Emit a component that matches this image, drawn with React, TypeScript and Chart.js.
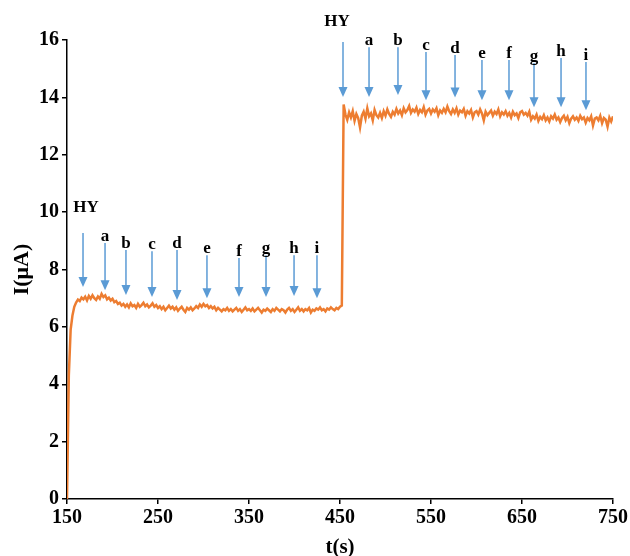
import React, { useEffect, useRef } from 'react';
import { Chart, registerables } from 'chart.js';
Chart.register(...registerables);

// sampling grid of the amperometric trace (s)
const T_START = 150;
const T_STEP = 2;

// current (µA) from t = 150 s to 452 s
const currentLow = [
  0, 4.3, 5.9, 6.4, 6.7, 6.85, 6.95, 6.9, 7.02, 6.96,
  7.05, 6.92, 7.08, 6.98, 7.1, 7.0, 6.94, 7.06, 6.98, 7.15,
  7.04, 7.1, 6.96, 7.02, 6.92, 6.98, 6.86, 6.9, 6.8, 6.84,
  6.74, 6.8, 6.7, 6.78, 6.68, 6.82, 6.72, 6.76, 6.66, 6.8,
  6.7, 6.76, 6.84, 6.72, 6.78, 6.68, 6.74, 6.82, 6.7, 6.76,
  6.66, 6.72, 6.62, 6.7, 6.58, 6.66, 6.74, 6.64, 6.7, 6.6,
  6.68, 6.56, 6.64, 6.7, 6.6, 6.52, 6.66, 6.6, 6.68, 6.58,
  6.64, 6.72, 6.66, 6.78, 6.7, 6.8, 6.72, 6.76, 6.66, 6.72,
  6.64, 6.7, 6.58, 6.66, 6.6, 6.54, 6.62, 6.58, 6.66, 6.56,
  6.62, 6.54, 6.6, 6.66, 6.56, 6.62, 6.52, 6.6, 6.68, 6.58,
  6.62, 6.56, 6.64, 6.54, 6.6, 6.66, 6.58, 6.5, 6.6, 6.56,
  6.64, 6.58, 6.52, 6.62, 6.56, 6.66, 6.6, 6.54, 6.62, 6.58,
  6.5, 6.6, 6.66, 6.56, 6.62, 6.52, 6.6, 6.68, 6.56, 6.62,
  6.54, 6.62, 6.58, 6.66, 6.5, 6.6, 6.56, 6.64, 6.6, 6.68,
  6.58, 6.62, 6.54, 6.64, 6.6, 6.68, 6.62, 6.58, 6.66, 6.62,
  6.7, 6.74,
];

// current (µA) from t = 454 s to 750 s
const currentHigh = [
  13.75, 13.4, 13.22, 13.48, 13.3, 13.52, 13.18, 13.42, 13.28, 12.95,
  13.36, 13.5, 13.26, 13.62, 13.34, 13.44, 13.2, 13.56, 13.38, 13.3,
  13.46, 13.28, 13.52, 13.36, 13.58, 13.42, 13.32, 13.5, 13.4, 13.6,
  13.44, 13.54, 13.38, 13.62, 13.48, 13.56, 13.7, 13.46, 13.58, 13.5,
  13.64, 13.42, 13.56, 13.48, 13.66, 13.4, 13.54, 13.6, 13.44, 13.58,
  13.5, 13.62, 13.38, 13.54, 13.46, 13.6, 13.48, 13.68, 13.52, 13.42,
  13.58, 13.46, 13.62, 13.4, 13.54, 13.48, 13.6, 13.36, 13.52, 13.44,
  13.56, 13.3, 13.48, 13.52, 13.4, 13.58, 13.44, 13.2, 13.5, 13.38,
  13.46, 13.54, 13.36, 13.5, 13.42, 13.58, 13.34, 13.48, 13.4, 13.52,
  13.36, 13.46, 13.3, 13.5, 13.38, 13.44, 13.28, 13.48, 13.52, 13.4,
  13.46, 13.36, 13.5, 13.22, 13.34, 13.26, 13.4, 13.18, 13.32, 13.24,
  13.38, 13.2, 13.3, 13.16, 13.34, 13.26, 13.4, 13.22, 13.3, 13.14,
  13.28, 13.36, 13.2, 13.32, 13.1, 13.26, 13.34, 13.22, 13.3, 13.18,
  13.36, 13.24, 13.3, 13.12, 13.28, 13.2, 13.34, 13.02, 13.26, 13.3,
  13.2, 13.36, 13.1, 13.28, 13.22, 12.98, 13.3, 13.16, 13.34,
];

const xTicks = [150, 250, 350, 450, 550, 650, 750];
const yMin = 0;
const yMax = 16;
const yStep = 2;

// addition markers
const markLabels = ['HY', 'a', 'b', 'c', 'd', 'e', 'f', 'g', 'h', 'i'];
// first injection series
const mark1Times = [167.6, 191.8, 214.8, 243.4, 270.9, 303.8, 339, 368.7, 399.5, 424.7];
const mark1Top = [9.27, 8.92, 8.68, 8.64, 8.68, 8.5, 8.4, 8.5, 8.5, 8.5];
const mark1Bottom = [7.39, 7.28, 7.11, 7.04, 6.94, 7.0, 7.04, 7.04, 7.08, 7.0];
const mark1LabelTimes = [170.9, 191.8, 214.8, 243.4, 270.9, 303.8, 339, 368.7, 399.5, 424.7];
const mark1LabelY = [10.0, 8.99, 8.75, 8.71, 8.75, 8.57, 8.47, 8.57, 8.57, 8.57];
// second injection series
const mark2Times = [453.3, 481.9, 513.7, 544.5, 576.4, 606, 635.7, 663.2, 692.9, 720.3];
const mark2Top = [15.93, 15.75, 15.75, 15.58, 15.48, 15.3, 15.3, 15.2, 15.37, 15.23];
const mark2Bottom = [14.01, 14.01, 14.08, 13.9, 14.0, 13.9, 13.9, 13.66, 13.66, 13.55];
const mark2LabelTimes = [446.7, 481.9, 513.7, 544.5, 576.4, 606, 635.7, 663.2, 692.9, 720.3];
const mark2LabelY = [16.49, 15.82, 15.82, 15.65, 15.55, 15.37, 15.37, 15.27, 15.44, 15.3];

const SERIF = "'Liberation Serif', 'Times New Roman', serif";

const markerPlugin = {
  id: 'markers',
  afterDatasetsDraw(chart: any) {
    const ctx = chart.ctx;
    const xs = chart.scales.x;
    const ys = chart.scales.y;
    const groups = [
      [mark1Times, mark1Top, mark1Bottom, mark1LabelTimes, mark1LabelY],
      [mark2Times, mark2Top, mark2Bottom, mark2LabelTimes, mark2LabelY],
    ];
    ctx.save();
    for (const [times, tops, bottoms, lts, lys] of groups) {
      for (let i = 0; i < times.length; i++) {
        const x = xs.getPixelForValue(times[i]);
        const y0 = ys.getPixelForValue(tops[i]);
        const y1 = ys.getPixelForValue(bottoms[i]);
        const head = 10;
        ctx.strokeStyle = '#5B9BD5';
        ctx.fillStyle = '#5B9BD5';
        ctx.lineWidth = 1.5;
        ctx.beginPath();
        ctx.moveTo(x, y0);
        ctx.lineTo(x, y1 - head + 1);
        ctx.stroke();
        ctx.beginPath();
        ctx.moveTo(x - 4.5, y1 - head);
        ctx.lineTo(x + 4.5, y1 - head);
        ctx.lineTo(x, y1);
        ctx.closePath();
        ctx.fill();
        ctx.fillStyle = '#000';
        ctx.font = `bold 17px ${SERIF}`;
        ctx.textAlign = 'center';
        ctx.textBaseline = 'alphabetic';
        ctx.fillText(markLabels[i], xs.getPixelForValue(lts[i]), ys.getPixelForValue(lys[i]));
      }
    }
    ctx.restore();
  },
};

export default function App() {
  const ref = useRef<HTMLCanvasElement>(null);
  useEffect(() => {
    if (!ref.current) return;
    const values = [...currentLow, ...currentHigh];
    const points = values.map((v, i) => ({ x: T_START + i * T_STEP, y: v }));
    const tickFont = { family: SERIF, size: 20, weight: 'bold' as const };
    const chart = new Chart(ref.current, {
      type: 'line',
      data: {
        datasets: [
          {
            data: points,
            borderColor: '#ED7D31',
            borderWidth: 2.5,
            pointRadius: 0,
            tension: 0,
            fill: false,
          },
        ],
      },
      options: {
        animation: false,
        responsive: false,
        layout: { padding: { left: 0, right: 17, top: 40, bottom: 0 } },
        plugins: { legend: { display: false }, tooltip: { enabled: false } },
        scales: {
          x: {
            type: 'linear',
            min: xTicks[0],
            max: xTicks[xTicks.length - 1],
            afterBuildTicks: (scale: any) => {
              scale.ticks = xTicks.map((v) => ({ value: v }));
            },
            afterFit: (scale: any) => {
              scale.height = 57;
            },
            border: { display: true, color: '#000', width: 1.5 },
            grid: { display: true, drawOnChartArea: false, drawTicks: true, tickLength: 5, color: '#000', lineWidth: 1.5 },
            ticks: { color: '#000', font: tickFont, padding: 2, maxRotation: 0, autoSkip: false },
            title: {
              display: true,
              text: 't(s)',
              color: '#000',
              font: { family: SERIF, size: 21, weight: 'bold', lineHeight: 1 },
              padding: { top: 0, bottom: -2 },
            },
          },
          y: {
            type: 'linear',
            min: yMin,
            max: yMax,
            afterFit: (scale: any) => {
              scale.width = 67;
            },
            border: { display: true, color: '#000', width: 1.5 },
            grid: { display: true, drawOnChartArea: false, drawTicks: true, tickLength: 5, color: '#000', lineWidth: 1.5 },
            ticks: { color: '#000', font: tickFont, padding: 3, stepSize: yStep },
            title: {
              display: true,
              text: 'I(μA)',
              color: '#000',
              font: { family: SERIF, size: 22, weight: 'bold', lineHeight: 1 },
              padding: { top: 11, bottom: 0 },
            },
          },
        },
      },
      plugins: [markerPlugin],
    });
    return () => chart.destroy();
  }, []);
  return (
    <div style={{ position: 'fixed', left: 0, top: 0, width: 630, height: 556, background: '#fff' }}>
      <canvas ref={ref} width={630} height={556} style={{ display: 'block' }} />
    </div>
  );
}
